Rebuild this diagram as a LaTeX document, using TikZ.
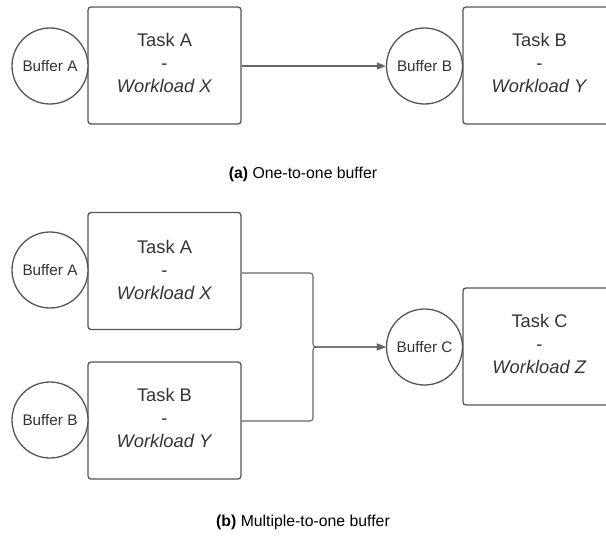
\documentclass[tikz,border=0pt]{standalone}
\usepackage{fontspec}
\setmainfont{Liberation Sans}
\usetikzlibrary{arrows.meta}
\definecolor{edge}{HTML}{555555}
\definecolor{ink}{HTML}{333333}
\tikzset{
  taskbox/.style={draw=edge, line width=1.3pt, rounded corners=3pt, minimum width=153pt, minimum height=117pt, inner sep=0pt},
  tasktext/.style={text=ink, font=\fontsize{18.3}{23}\selectfont, align=center},
  buffer/.style={draw=edge, line width=1.3pt, circle, minimum size=76pt, inner sep=0pt, text=ink, font=\fontsize{15.3}{17}\selectfont, fill=white},
  conn/.style={draw=edge!90!white, line width=1.1pt, -{Triangle[length=9pt,width=7pt]}},
  caption/.style={text=black, font=\fontsize{15.8}{18}\selectfont}
}
\begin{document}
\begin{tikzpicture}[x=1pt,y=-1pt]
\useasboundingbox (0,0) rectangle (606,541);
\clip (0,0) rectangle (606,541);

% (a) one-to-one
\node[taskbox] (ta) at (164.5,65.5) {};
\node[tasktext] at (164.5,63) {Task A\\-\\\textit{Workload X}};
\node[buffer] (ba) at (50,66) {Buffer A};
\node[taskbox] (tb) at (539.5,65.5) {};
\node[tasktext] at (539.5,63) {Task B\\-\\\textit{Workload Y}};
\node[buffer] (bb) at (424.5,66) {Buffer B};
\draw[conn] (ta.east |- bb.west) -- (bb.west);
\node[caption] (capa) at (303,174) {\textbf{(a)} One-to-one buffer};

% (b) multiple-to-one
\node[taskbox] (ta2) at (164.5,271) {};
\node[tasktext] at (164.5,270) {Task A\\-\\\textit{Workload X}};
\node[buffer] (ba2) at (50,270) {Buffer A};
\node[taskbox] (tb2) at (164.5,420.5) {};
\node[tasktext] at (164.5,418) {Task B\\-\\\textit{Workload Y}};
\node[buffer] (bb2) at (50,420) {Buffer B};
\node[taskbox] (tc) at (539.5,346.5) {};
\node[tasktext] at (539.5,344) {Task C\\-\\\textit{Workload Z}};
\node[buffer] (bc) at (424.5,347) {Buffer C};
\coordinate (join) at (313,347);
\draw[conn, rounded corners=3pt] (ta2.east |- 0,273) -| (join) -- (bc.west);
\draw[conn, rounded corners=3pt] (tb2.east |- 0,421) -| (join) -- (bc.west);
\node[caption] (capb) at (303,522) {\textbf{(b)} Multiple-to-one buffer};
\end{tikzpicture}
\end{document}
